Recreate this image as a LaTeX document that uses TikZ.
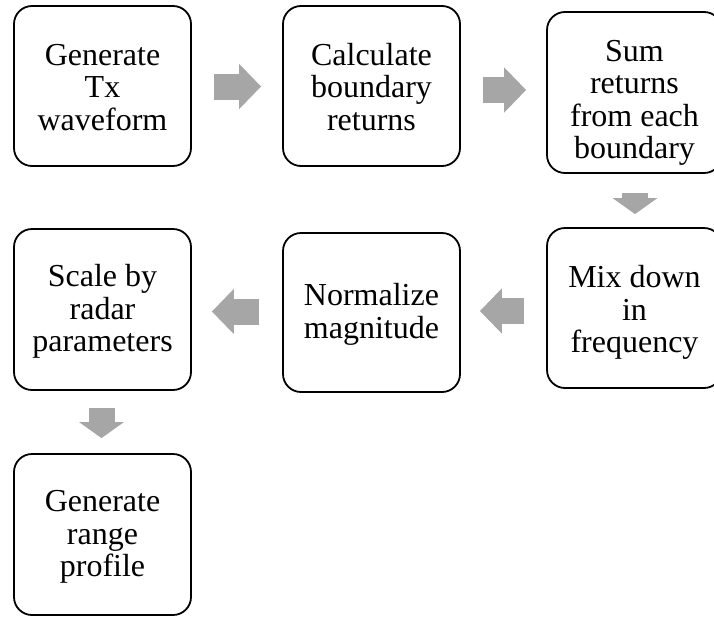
\documentclass[tikz,border=0pt]{standalone}
\usepackage{fontspec}
\setmainfont{Liberation Serif}
\usetikzlibrary{arrows.meta,calc}
\definecolor{arrowgray}{RGB}{166,166,166}
\newcommand\boxtext[2]{\raisebox{-#1}[\height][\depth]{\begin{tabular}{@{}c@{}}#2\end{tabular}}}
\tikzset{
  stepbox/.style={draw=black, line width=1.8pt, rounded corners=18pt, fill=white,
    minimum width=177pt, minimum height=160pt, inner sep=0pt, align=center,
    font=\fontsize{32}{32.5}\selectfont},
  blockarrow/.style={draw=arrowgray, line width=26pt,
    -{Triangle[length=22pt 0 0, width=44pt 0 0]}},
  blockarrowv/.style={draw=arrowgray, line width=26pt,
    -{Triangle[length=16pt 0 0, width=44pt 0 0]}}
}
\begin{document}
\begin{tikzpicture}[x=1pt,y=-1pt]
\useasboundingbox (0,0) rectangle (714,616);
\clip (0,0) rectangle (714,616);
\node[stepbox] (b1) at (102.5,86) {\boxtext{5pt}{Generate\\Tx\\waveform}};
\node[stepbox] (b2) at (371.5,86) {\boxtext{5pt}{Calculate\\boundary\\returns}};
\node[stepbox, minimum width=175pt, minimum height=161pt] (b3) at (634.5,92.5) {\boxtext{11pt}{Sum\\returns\\from each\\boundary}};
\node[stepbox, minimum width=175pt] (b6) at (634.5,308) {\boxtext{5.5pt}{Mix down\\in\\frequency}};
\node[stepbox, minimum height=159pt] (b5) at (371.5,312.5) {\boxtext{3pt}{Normalize\\magnitude}};
\node[stepbox, minimum height=161pt] (b4) at (102.5,309.5) {\boxtext{3pt}{Scale by\\radar\\parameters}};
\node[stepbox, minimum height=161pt] (b7) at (102.5,534.5) {\boxtext{3pt}{Generate\\range\\profile}};
\draw[blockarrow] ($(b1.east)+(22,0.5)$) -- ($(b2.west)+(-21,0.5)$);
\draw[blockarrow] ($(b2.east)+(22,4)$) -- ($(b3.west)+(-20,-2.5)$);
\draw[blockarrowv] ($(b3.south)+(0.5,19)$) -- ($(b6.north)+(0.5,-13)$);
\draw[blockarrow] ($(b6.west)+(-22,3)$) -- ($(b5.east)+(19,-1.5)$);
\draw[blockarrow] ($(b5.west)+(-23,-1)$) -- ($(b4.east)+(20,2)$);
\draw[blockarrowv] ($(b4.south)+(-1,17)$) -- ($(b7.north)+(-1,-15)$);
\end{tikzpicture}
\end{document}
